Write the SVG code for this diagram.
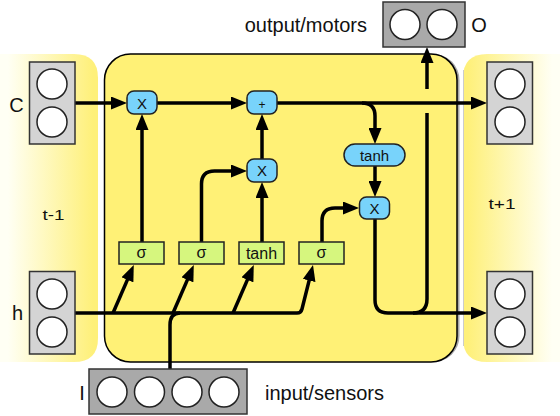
<svg xmlns="http://www.w3.org/2000/svg" width="560" height="416" viewBox="0 0 560 416">
<style>
text{font-family:"Liberation Sans",Arial,sans-serif;fill:#111}
.lbl{font-size:20px}
.vec{fill:#d4d4d4;stroke:#333;stroke-width:1.5}
.vecd{fill:#a9a9a9;stroke:#333;stroke-width:1.5}
.cell{fill:#fff;stroke:#222;stroke-width:1.5}
.op{fill:#78d3fb;stroke:#222;stroke-width:1.5}
.gate{fill:#d6f67e;stroke:#222;stroke-width:1.5}
.ot{font-size:15px;text-anchor:middle}
.gt{font-size:16px;text-anchor:middle}
.wire{fill:none;stroke:#000;stroke-width:3.5}
.arr{marker-end:url(#ah)}
</style>
<defs>
<marker id="ah" markerUnits="userSpaceOnUse" markerWidth="16" markerHeight="13" refX="4" refY="6.5" orient="auto">
<path d="M0,0 L16,6.5 L0,13 Z" fill="#000"/>
</marker>
<linearGradient id="gl" x1="0" y1="0" x2="98" y2="0" gradientUnits="userSpaceOnUse">
<stop offset="0.08" stop-color="#fffff4"/>
<stop offset="0.95" stop-color="#fef07a"/>
</linearGradient>
<linearGradient id="gr" x1="463" y1="0" x2="560" y2="0" gradientUnits="userSpaceOnUse">
<stop offset="0.05" stop-color="#fef07a"/>
<stop offset="0.92" stop-color="#fffff4"/>
</linearGradient>
</defs>
<rect width="560" height="416" fill="#fff"/>

<g id="panel-prev">
<path d="M0,54 H74 Q98,54 98,78 V338 Q98,362 74,362 H0 Z" fill="url(#gl)"/>
<text x="53.5" y="220" font-size="15" text-anchor="middle" textLength="22" lengthAdjust="spacingAndGlyphs">t-1</text>
</g>
<g id="panel-next">
<path d="M560,54 H487 Q463,54 463,78 V338 Q463,362 487,362 H560 Z" fill="url(#gr)"/>
<line x1="463.5" y1="70" x2="463.5" y2="346" stroke="#ccc" stroke-width="1"/>
<text x="502" y="209" font-size="15" text-anchor="middle" textLength="27" lengthAdjust="spacingAndGlyphs">t+1</text>
</g>
<g id="lstm-cell">
<rect x="107" y="54" width="352.5" height="308" rx="26" fill="#a8a8a8"/>
<rect x="104.5" y="54" width="352.5" height="308" rx="26" fill="#fff176" stroke="#000" stroke-width="1.5"/>
</g>

<g id="connectors">
<path class="wire arr" d="M75,103 H115"/>
<path class="wire arr" d="M157,103 H235"/>
<path class="wire arr" d="M277,103 H475"/>
<path class="wire arr" d="M362,103 Q375,103 375,116 V132"/>
<path class="wire arr" d="M375,166 V185"/>
<path class="wire arr" d="M375,219 V300 Q375,313 388,313 H475"/>
<path class="wire" d="M413,313 Q427,313 427,299 V113"/>
<path class="wire arr" d="M427,89 V59"/>
<path class="wire arr" d="M142,242 V126"/>
<path class="wire arr" d="M201.5,242 V184 Q201.5,171 214.5,171 H235"/>
<path class="wire arr" d="M262,242 V194"/>
<path class="wire arr" d="M262,159 V126"/>
<path class="wire arr" d="M322,242 V221 Q322,208 335,208 H347"/>
<path class="wire arr" d="M73,313 H297 Q301,313 302,309 L310.1,276.6"/>
<path class="wire arr" d="M113,313 L129,276.1"/>
<path class="wire arr" d="M173,313 L189,276.1"/>
<path class="wire arr" d="M233,313 L249,276.1"/>
<path class="wire" d="M170,369 V325 Q170,313 180,313"/>
</g>

<g id="C-prev">
<rect class="vec" x="29.5" y="62" width="45.5" height="82"/>
<circle class="cell" cx="52" cy="84" r="15"/>
<circle class="cell" cx="52" cy="122" r="15"/>
<text class="lbl" x="16.5" y="112" text-anchor="middle">C</text>
</g>
<g id="h-prev">
<rect class="vec" x="29.5" y="271.5" width="45.5" height="82.5"/>
<circle class="cell" cx="52" cy="294" r="15"/>
<circle class="cell" cx="52" cy="332" r="15"/>
<text class="lbl" x="17.5" y="320" text-anchor="middle">h</text>
</g>
<g id="C-next">
<rect class="vec" x="487" y="62" width="45.5" height="82"/>
<circle class="cell" cx="510" cy="84" r="15"/>
<circle class="cell" cx="510" cy="122" r="15"/>
</g>
<g id="h-next">
<rect class="vec" x="487" y="271.5" width="45.5" height="82.5"/>
<circle class="cell" cx="510" cy="294" r="15"/>
<circle class="cell" cx="510" cy="332" r="15"/>
</g>
<g id="output">
<rect class="vecd" x="383" y="2" width="82" height="45"/>
<circle class="cell" cx="405" cy="24.5" r="15"/>
<circle class="cell" cx="442" cy="24.5" r="15"/>
<text class="lbl" x="479" y="32" text-anchor="middle">O</text>
<text class="lbl" x="367" y="32" text-anchor="end">output/motors</text>
</g>
<g id="input">
<rect class="vecd" x="89" y="369" width="158" height="45"/>
<circle class="cell" cx="112" cy="392" r="15"/>
<circle class="cell" cx="149.5" cy="392" r="15"/>
<circle class="cell" cx="187" cy="392" r="15"/>
<circle class="cell" cx="224" cy="392" r="15"/>
<text class="lbl" x="82" y="400" text-anchor="middle">I</text>
<text class="lbl" x="265" y="400">input/sensors</text>
</g>

<g id="forget-mult">
<rect class="op" x="127" y="91" width="30" height="23" rx="7"/>
<text class="ot" x="142" y="108.5">X</text>
</g>
<g id="cell-add">
<rect class="op" x="247" y="91" width="30" height="23" rx="7"/>
<text x="262" y="109" font-size="12" text-anchor="middle">+</text>
</g>
<g id="input-mult">
<rect class="op" x="247" y="159" width="30" height="23" rx="7"/>
<text class="ot" x="262" y="176">X</text>
</g>
<g id="cell-tanh">
<rect class="op" x="344" y="144" width="61" height="22" rx="11"/>
<text class="ot" x="374.5" y="160.5">tanh</text>
</g>
<g id="output-mult">
<rect class="op" x="359.5" y="197" width="30" height="22" rx="7"/>
<text class="ot" x="374.5" y="213.5">X</text>
</g>
<g id="forget-gate">
<rect class="gate" x="119" y="242" width="45" height="22"/>
<text class="gt" x="141.5" y="258">σ</text>
</g>
<g id="input-gate">
<rect class="gate" x="179" y="242" width="45" height="22"/>
<text class="gt" x="201.5" y="258">σ</text>
</g>
<g id="candidate-gate">
<rect class="gate" x="239" y="242" width="45" height="22"/>
<text class="gt" x="261.5" y="259">tanh</text>
</g>
<g id="output-gate">
<rect class="gate" x="299" y="242" width="45" height="22"/>
<text class="gt" x="321.5" y="258">σ</text>
</g>
</svg>
